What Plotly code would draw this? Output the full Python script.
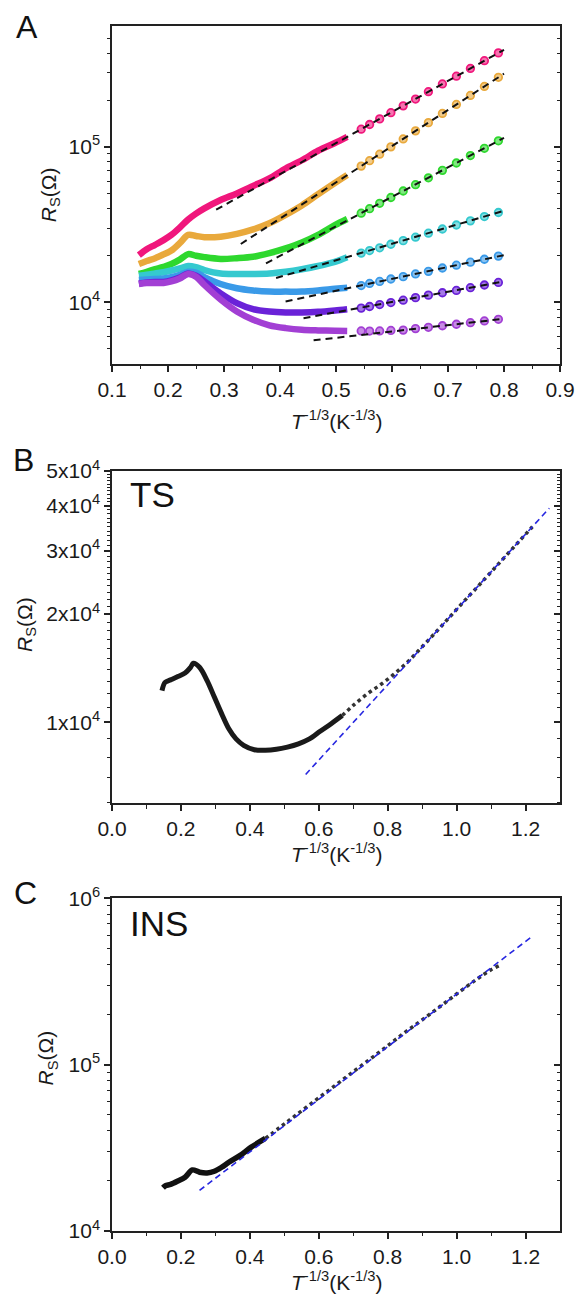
import math
import plotly.graph_objects as go

FONT = "Liberation Sans, Arial, sans-serif"

# ---------------- Panel A data ----------------
a_dense_x = [0.148, 0.162, 0.177, 0.192, 0.206, 0.221, 0.236, 0.250, 0.265, 0.294,
             0.323, 0.352, 0.381, 0.410, 0.439, 0.468, 0.498, 0.520]
a_sparse_x = [0.545, 0.560, 0.578, 0.598, 0.620, 0.642, 0.665, 0.690, 0.715, 0.740, 0.765, 0.790]

pink_dense = [20100, 21900, 23400, 25100, 27100, 30200, 34100, 37200, 40200, 45500,
              50100, 56000, 62700, 72600, 82000, 94400, 105900, 116100]
orange_dense = [17600, 18400, 19200, 20300, 21500, 24000, 27100, 26700, 26200, 26400,
                27500, 29400, 32200, 36500, 42000, 49500, 58500, 65800]
green_dense = [15200, 15700, 16300, 16900, 17600, 18800, 20400, 19900, 19500, 19000,
               19200, 19600, 20700, 22200, 24200, 27100, 31300, 34300]
cyan_dense = [14800, 15000, 15300, 15600, 16000, 16500, 17100, 16800, 16100, 15300,
              15200, 15200, 15300, 15700, 16300, 17100, 18200, 19500]
blue_dense = [13900, 14000, 14100, 14200, 14500, 15000, 15700, 15500, 14500, 13100,
              12300, 11900, 11700, 11700, 11700, 11900, 12200, 12400]
violet_dense = [13200, 13400, 13500, 13500, 13800, 14400, 15300, 14800, 13600, 11400,
                9860, 9020, 8710, 8590, 8590, 8670, 8850, 9020]
purple_dense = [13100, 13300, 13300, 13300, 13600, 14200, 15200, 14600, 12900, 10400,
                8710, 7710, 7100, 6810, 6640, 6580, 6550, 6530]

pink_sparse = [130000, 139300, 151400, 166000, 183700, 203200, 226500, 254100, 285100, 319900, 358900, 402700]
orange_sparse = [75200, 81500, 89700, 100000, 112500, 126800, 143200, 164100, 187500, 214300, 244900, 280500]
green_sparse = [37400, 40000, 43300, 47200, 52000, 57100, 63200, 70600, 78700, 87900, 97900, 109400]
cyan_sparse = [20700, 21500, 22400, 23600, 24900, 26200, 27800, 29600, 31400, 33400, 35600, 37800]
blue_sparse = [12800, 13200, 13600, 14100, 14600, 15200, 15800, 16600, 17300, 18100, 18900, 19800]
violet_sparse = [9160, 9380, 9660, 9950, 10300, 10700, 11100, 11500, 11900, 12400, 12900, 13400]
purple_sparse = [6530, 6520, 6530, 6580, 6610, 6760, 6890, 7050, 7210, 7380, 7570, 7760]

# dashed fits (start x, end x, start R, end R)
fit_x0 = [0.286, 0.330, 0.375, 0.393, 0.410, 0.442, 0.460]
fit_x1 = [0.8, 0.8, 0.8, 0.8, 0.8, 0.8, 0.8]
fit_r0 = [39400, 23700, 17800, 14300, 10100, 7890, 5680]
fit_r1 = [421700, 295800, 114300, 38800, 20100, 13600, 7820]

a_colors = ["#f0177c", "#e9a93c", "#2ed82e", "#35c9cf", "#3a9ae8", "#6a22d8", "#a23fd4"]

# ---------------- Panel B data (TS) ----------------
ts_x = [0.145, 0.154, 0.170, 0.191, 0.212, 0.228, 0.236, 0.254, 0.276, 0.297, 0.318, 0.339,
        0.360, 0.382, 0.413, 0.445, 0.477, 0.509, 0.541, 0.573, 0.604, 0.636, 0.668, 0.700,
        0.742, 0.780, 0.820, 0.860, 0.900, 0.940, 0.980, 1.020, 1.060, 1.100, 1.140, 1.180, 1.220]
ts_r = [12250, 12910, 13120, 13400, 13710, 14220, 14590, 14220, 13060, 11750, 10570, 9590,
        8990, 8630, 8390, 8360, 8410, 8530, 8710, 8990, 9440, 9910, 10440, 11140,
        12020, 12740, 13650, 14790, 16220, 17820, 19630, 21630, 23770, 26180, 28840, 31770, 34990]
ts_fit_x = [0.562, 1.269]
ts_fit_r = [7160, 39400]

# ---------------- Panel C data (INS) ----------------
ins_x = [0.148, 0.155, 0.170, 0.191, 0.212, 0.233, 0.254, 0.276, 0.297, 0.318, 0.339, 0.371,
         0.403, 0.445, 0.488, 0.530, 0.583, 0.636, 0.689, 0.742, 0.795, 0.848, 0.901, 0.954,
         1.007, 1.060, 1.100, 1.124]
ins_r = [18200, 18700, 19050, 19950, 21050, 23280, 22560, 22340, 22860, 24150, 25880, 28370,
         31800, 35970, 42070, 48980, 59430, 71780, 87100, 105200, 127400, 154900, 186200, 224900,
         272300, 327300, 371500, 393600]
ins_fit_x = [0.254, 1.221]
ins_fit_r = [17540, 593000]


def tint(hexcol, f=0.4):
    h = hexcol.lstrip("#")
    r, g, b = int(h[0:2], 16), int(h[2:4], 16), int(h[4:6], 16)
    r = int(r + (255 - r) * f); g = int(g + (255 - g) * f); b = int(b + (255 - b) * f)
    return f"rgb({r},{g},{b})"


fig = go.Figure()

dense_sets = [pink_dense, orange_dense, green_dense, cyan_dense, blue_dense, violet_dense, purple_dense]
sparse_sets = [pink_sparse, orange_sparse, green_sparse, cyan_sparse, blue_sparse, violet_sparse, purple_sparse]

for i in range(7):
    c = a_colors[i]
    fig.add_trace(go.Scatter(x=a_dense_x, y=dense_sets[i], mode="lines",
                             line=dict(color=c, width=6.5, shape="spline", smoothing=0.9),
                             xaxis="x", yaxis="y", showlegend=False, hoverinfo="skip"))
    fig.add_trace(go.Scatter(x=a_sparse_x, y=sparse_sets[i], mode="markers",
                             marker=dict(symbol="circle", size=7.5, color=tint(c),
                                         line=dict(color=c, width=1.8)),
                             xaxis="x", yaxis="y", showlegend=False, hoverinfo="skip"))
for i in range(7):
    fig.add_trace(go.Scatter(x=[fit_x0[i], fit_x1[i]], y=[fit_r0[i], fit_r1[i]], mode="lines",
                             line=dict(color="#111111", width=2, dash="7px,5px"),
                             xaxis="x", yaxis="y", showlegend=False, hoverinfo="skip"))

# Panel B
split_b = 22
fig.add_trace(go.Scatter(x=ts_x[:split_b + 1], y=ts_r[:split_b + 1], mode="lines",
                         line=dict(color="#1a1a1a", width=5, shape="spline", smoothing=0.9),
                         xaxis="x2", yaxis="y2", showlegend=False, hoverinfo="skip"))
fig.add_trace(go.Scatter(x=ts_x[split_b:], y=ts_r[split_b:], mode="lines",
                         line=dict(color="#333333", width=3.5, dash="dot", shape="spline"),
                         xaxis="x2", yaxis="y2", showlegend=False, hoverinfo="skip"))
fig.add_trace(go.Scatter(x=ts_fit_x, y=ts_fit_r, mode="lines",
                         line=dict(color="#2626e0", width=1.6, dash="6px,4px"),
                         xaxis="x2", yaxis="y2", showlegend=False, hoverinfo="skip"))

# Panel C
split_c = 13
fig.add_trace(go.Scatter(x=ins_x[:split_c + 1], y=ins_r[:split_c + 1], mode="lines",
                         line=dict(color="#111111", width=5.5, shape="spline", smoothing=0.9),
                         xaxis="x3", yaxis="y3", showlegend=False, hoverinfo="skip"))
fig.add_trace(go.Scatter(x=ins_x[split_c:], y=ins_r[split_c:], mode="lines",
                         line=dict(color="#333333", width=3.5, dash="dot", shape="spline"),
                         xaxis="x3", yaxis="y3", showlegend=False, hoverinfo="skip"))
fig.add_trace(go.Scatter(x=ins_fit_x, y=ins_fit_r, mode="lines",
                         line=dict(color="#2626e0", width=1.6, dash="6px,4px"),
                         xaxis="x3", yaxis="y3", showlegend=False, hoverinfo="skip"))

LINE = "#222222"
TICKFONT = dict(family=FONT, size=21, color="#1a1a1a")

dom_a = [0.7195, 1.0]
dom_b = [0.3549, 0.6307]
dom_c = [0.0, 0.2762]


def xax(rng, vals, texts, minors, anchor):
    return dict(range=rng, tickmode="array", tickvals=vals, ticktext=texts, ticks="outside",
                ticklen=6, tickwidth=1.5, tickcolor=LINE, showline=True, linecolor=LINE,
                linewidth=1.5, mirror=True, showgrid=False, zeroline=False, tickfont=TICKFONT,
                anchor=anchor, domain=[0, 1],
                minor=dict(tickmode="array", tickvals=minors, ticks="outside", ticklen=3.5,
                           tickwidth=1.2, tickcolor=LINE, showgrid=False))


def yax(rng, vals, texts, minors, anchor, dom):
    return dict(type="log", range=rng, tickmode="array", tickvals=vals, ticktext=texts,
                ticks="outside", ticklen=6, tickwidth=1.5, tickcolor=LINE, showline=True,
                linecolor=LINE, linewidth=1.5, mirror=True, showgrid=False, zeroline=False,
                tickfont=TICKFONT, anchor=anchor, domain=dom,
                minor=dict(tickmode="array", tickvals=minors, ticks="outside", ticklen=3.5,
                           tickwidth=1.2, tickcolor=LINE, showgrid=False))


def yright(rng, vals, minors, overlay, anchor, dom):
    return dict(type="log", range=rng, tickmode="array", tickvals=vals, ticks="inside",
                ticklen=6, tickwidth=1.5, tickcolor=LINE, showticklabels=False, showline=False,
                showgrid=False, zeroline=False, overlaying=overlay, side="right", anchor=anchor,
                domain=dom,
                minor=dict(tickmode="array", tickvals=minors, ticks="inside", ticklen=3.5,
                           tickwidth=1.2, tickcolor=LINE, showgrid=False))


a_xt = [0.1, 0.2, 0.3, 0.4, 0.5, 0.6, 0.7, 0.8, 0.9]
a_xl = ["0.1", "0.2", "0.3", "0.4", "0.5", "0.6", "0.7", "0.8", "0.9"]
a_xm = [0.15, 0.25, 0.35, 0.45, 0.55, 0.65, 0.75, 0.85]
a_yt = [1e4, 1e5]
a_yl = ["10<sup>4</sup>", "10<sup>5</sup>"]
a_ym = [5000, 6000, 7000, 8000, 9000, 20000, 30000, 40000, 50000, 60000, 70000, 80000, 90000,
        200000, 300000, 400000, 500000]

bc_xt = [0.0, 0.2, 0.4, 0.6, 0.8, 1.0, 1.2]
bc_xl = ["0.0", "0.2", "0.4", "0.6", "0.8", "1.0", "1.2"]
bc_xm = [0.1, 0.3, 0.5, 0.7, 0.9, 1.1]
b_yt = [1e4, 2e4, 3e4, 4e4, 5e4]
b_yl = ["1x10<sup>4</sup>", "2x10<sup>4</sup>", "3x10<sup>4</sup>", "4x10<sup>4</sup>", "5x10<sup>4</sup>"]
b_ym = [6000, 7000, 8000, 9000, 11000, 12000, 13000, 14000, 15000, 16000, 17000, 18000, 19000,
        21000, 22000, 23000, 24000, 25000, 26000, 27000, 28000, 29000,
        31000, 32000, 33000, 34000, 35000, 36000, 37000, 38000, 39000,
        41000, 42000, 43000, 44000, 45000, 46000, 47000, 48000, 49000]
c_yt = [1e4, 1e5, 1e6]
c_yl = ["10<sup>4</sup>", "10<sup>5</sup>", "10<sup>6</sup>"]
c_ym = [20000, 30000, 40000, 50000, 60000, 70000, 80000, 90000,
        200000, 300000, 400000, 500000, 600000, 700000, 800000, 900000]

ra = [math.log10(4000), math.log10(600000)]
rb = [math.log10(5950), math.log10(50000)]
rc = [4, 6]

fig.update_layout(
    width=587, height=1302, plot_bgcolor="white", paper_bgcolor="white",
    margin=dict(l=112, r=17, t=18, b=71),
    font=dict(family=FONT, color="#1a1a1a"),
    xaxis=xax([0.1, 0.9], a_xt, a_xl, a_xm, "y"),
    yaxis=yax(ra, a_yt, a_yl, a_ym, "x", dom_a),
    xaxis2=xax([0, 1.3], bc_xt, bc_xl, bc_xm, "y2"),
    yaxis2=yax(rb, b_yt, b_yl, b_ym, "x2", dom_b),
    xaxis3=xax([0, 1.3], bc_xt, bc_xl, bc_xm, "y3"),
    yaxis3=yax(rc, c_yt, c_yl, c_ym, "x3", dom_c),
    yaxis4=yright(ra, a_yt, a_ym, "y", "x", dom_a),
    yaxis5=yright(rb, b_yt, b_ym, "y2", "x2", dom_b),
    yaxis6=yright(rc, c_yt, c_ym, "y3", "x3", dom_c),
)

# invisible traces so the right-side tick axes render
for ax, xa in [("y4", "x"), ("y5", "x2"), ("y6", "x3")]:
    fig.add_trace(go.Scatter(x=[None], y=[None], xaxis=xa, yaxis=ax, showlegend=False,
                             hoverinfo="skip"))

ytitle = "<i>R</i><sub>S</sub>(Ω)"
xtitle = "<i>T</i><sup>-1/3</sup>(K<sup>-1/3</sup>)"
ann = []
for (x, y) in [(-0.1397, 0.8599), (-0.192, 0.5037), (-0.1441, 0.1435)]:
    ann.append(dict(text=ytitle, x=x, y=y, xref="paper", yref="paper", textangle=-90,
                    showarrow=False, xanchor="center", yanchor="middle",
                    font=dict(family=FONT, size=21, color="#1a1a1a")))
for y in [0.6727, 0.3141, -0.0415]:
    ann.append(dict(text=xtitle, x=0.5, y=y, xref="paper", yref="paper", showarrow=False,
                    xanchor="center", yanchor="middle",
                    font=dict(family=FONT, size=21, color="#1a1a1a")))
for t, x, y in [("A", -0.19, 0.9988), ("B", -0.1976, 0.6397), ("C", -0.1921, 0.2803)]:
    ann.append(dict(text=t, x=x, y=y, xref="paper", yref="paper", showarrow=False,
                    xanchor="center", yanchor="middle",
                    font=dict(family=FONT, size=32, color="#111111")))
for t, y in [("TS", 0.6113), ("INS", 0.2556)]:
    ann.append(dict(text=t, x=0.0349, y=y, xref="paper", yref="paper", showarrow=False,
                    xanchor="left", yanchor="middle",
                    font=dict(family=FONT, size=35, color="#111111")))
fig.update_layout(annotations=ann)

fig.write_html("out.html", config={"displayModeBar": False},
               post_script="document.body.style.margin='0';")
